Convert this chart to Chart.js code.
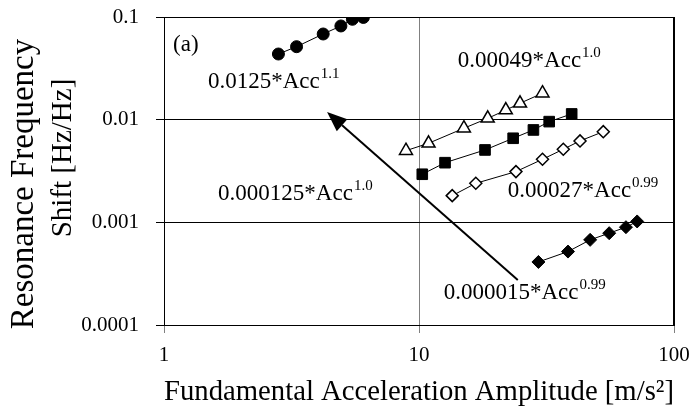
<!DOCTYPE html>
<html>
<head>
<meta charset="utf-8">
<script src="https://cdn.jsdelivr.net/npm/chart.js@4.4.1/dist/chart.umd.min.js"></script>
<style>
  html, body { margin: 0; padding: 0; background: #ffffff; }
  #wrap { width: 699px; height: 418px; }
</style>
</head>
<body>
<div id="wrap"><canvas id="resonanceChart" width="699" height="418"></canvas></div>
<script>
// Series data (x: acceleration m/s^2, y: shift Hz/Hz)
const circleX = [2.81, 3.31, 4.21, 4.94, 5.48, 6.05];
const circleY = [0.0436, 0.0514, 0.0683, 0.0818, 0.095, 0.099];

const triangleX = [8.89, 10.9, 15.0, 18.6, 21.9, 24.9, 30.5];
const triangleY = [0.00499, 0.00589, 0.00825, 0.0103, 0.0124, 0.01445, 0.0181];

const squareX = [10.3, 12.65, 18.15, 23.4, 28.1, 32.4, 39.7];
const squareY = [0.00294, 0.00381, 0.00507, 0.00659, 0.00794, 0.00957, 0.01137];

const openDiamondX = [13.5, 16.7, 24.0, 30.5, 36.8, 42.8, 52.8];
const openDiamondY = [0.00182, 0.0024, 0.00312, 0.00411, 0.00515, 0.00621, 0.00764];

const diamondX = [29.4, 38.4, 46.9, 55.7, 64.8, 71.7];
const diamondY = [0.000411, 0.000519, 0.000675, 0.000784, 0.000897, 0.00102];

// Axis ticks
const xTicks = [1, 10, 100];
const xTickLabels = ['1', '10', '100'];
const yTicks = [0.0001, 0.001, 0.01, 0.1];
const yTickLabels = ['0.0001', '0.001', '0.01', '0.1'];

// Axis titles
const xTitle = 'Fundamental Acceleration Amplitude [m/s\u00b2]';
const yTitleLines = ['Resonance Frequency', 'Shift [Hz/Hz]'];

// Fit labels: [text, exponent, anchor x, anchor y] (anchor = left baseline, in data units)
const fitLabels = [
    ['(a)', '', 1.085, 0.0467],
    ['0.0125*Acc', '1.1', 1.488, 0.0204],
    ['0.00049*Acc', '1.0', 14.2, 0.0326],
    ['0.000125*Acc', '1.0', 1.63, 0.00165],
    ['0.00027*Acc', '0.99', 22.3, 0.00177],
    ['0.000015*Acc', '0.99', 12.5, 0.00018]
];

// Arrow from label to curve: tail and head, data units
const arrowFrom = [24.4, 0.000275];
const arrowTo = [4.36, 0.0119];

const FONT = '"Liberation Serif", "Times New Roman", serif';

function toPoints(xs, ys) {
    return xs.map((x, i) => ({ x: x, y: ys[i] }));
}

function series(xs, ys, style, radius, filled) {
    return {
        data: toPoints(xs, ys),
        showLine: true,
        borderColor: '#000000',
        borderWidth: 1,
        pointStyle: style,
        pointRadius: radius,
        pointHoverRadius: radius,
        pointBackgroundColor: filled ? '#000000' : '#ffffff',
        pointBorderColor: '#000000',
        pointBorderWidth: filled ? 1 : 1.5,
        tension: 0
    };
}

// Draws frame, y title, fit equations and the arrow
const annotationPlugin = {
    id: 'annotations',
    afterDatasetsDraw(chart) {
        const ctx = chart.ctx;
        const xs = chart.scales.x;
        const ys = chart.scales.y;
        const area = chart.chartArea;

        ctx.save();
        ctx.strokeStyle = '#000000';
        ctx.lineWidth = 1;
        ctx.beginPath();
        ctx.moveTo(area.left, area.top + 0.5);
        ctx.lineTo(area.right, area.top + 0.5);
        ctx.stroke();
        ctx.lineWidth = 2;
        ctx.beginPath();
        ctx.moveTo(area.right, area.top);
        ctx.lineTo(area.right, area.bottom);
        ctx.stroke();

        ctx.fillStyle = '#000000';

        // y axis title, two lines rotated
        ctx.save();
        ctx.rotate(-Math.PI / 2);
        ctx.textAlign = 'center';
        ctx.textBaseline = 'middle';
        ctx.font = '33px ' + FONT;
        ctx.fillText(yTitleLines[0], -184, 24);
        ctx.font = '29px ' + FONT;
        ctx.fillText(yTitleLines[1], -158, 63);
        ctx.restore();

        ctx.textBaseline = 'alphabetic';
        ctx.textAlign = 'left';
        fitLabels.forEach(([text, exp, ax, ay]) => {
            const px = xs.getPixelForValue(ax);
            const py = ys.getPixelForValue(ay);
            ctx.font = '23px ' + FONT;
            ctx.fillText(text, px, py);
            if (exp) {
                const w = ctx.measureText(text).width;
                ctx.font = '15px ' + FONT;
                ctx.fillText(exp, px + w + 1, py - 10);
            }
        });

        // Arrow
        const x1 = xs.getPixelForValue(arrowFrom[0]);
        const y1 = ys.getPixelForValue(arrowFrom[1]);
        const x2 = xs.getPixelForValue(arrowTo[0]);
        const y2 = ys.getPixelForValue(arrowTo[1]);
        const ang = Math.atan2(y2 - y1, x2 - x1);
        const headLen = 20, headHalf = 8;
        const bx = x2 - headLen * Math.cos(ang);
        const by = y2 - headLen * Math.sin(ang);
        ctx.lineWidth = 2;
        ctx.beginPath();
        ctx.moveTo(x1, y1);
        ctx.lineTo(bx, by);
        ctx.stroke();
        ctx.beginPath();
        ctx.moveTo(x2, y2);
        ctx.lineTo(bx + headHalf * Math.sin(ang), by - headHalf * Math.cos(ang));
        ctx.lineTo(bx - headHalf * Math.sin(ang), by + headHalf * Math.cos(ang));
        ctx.closePath();
        ctx.fill();
        ctx.restore();
    }
};

const ctx = document.getElementById('resonanceChart').getContext('2d');
const resonanceChart = new Chart(ctx, {
    type: 'scatter',
    data: {
        datasets: [
            series(circleX, circleY, 'circle', 6, true),
            series(triangleX, triangleY, 'triangle', 7.5, false),
            series(squareX, squareY, 'rect', 7.5, true),
            series(openDiamondX, openDiamondY, 'rectRot', 6, false),
            series(diamondX, diamondY, 'rectRot', 6.5, true)
        ]
    },
    options: {
        responsive: false,
        animation: false,
        events: [],
        layout: { padding: { top: 17, right: 25, left: 0, bottom: 0 } },
        plugins: {
            legend: { display: false },
            tooltip: { enabled: false }
        },
        scales: {
            x: {
                type: 'logarithmic',
                min: 1,
                max: 100,
                afterBuildTicks: (scale) => {
                    scale.ticks = xTicks.map(v => ({ value: v }));
                },
                afterFit: (scale) => {
                    scale.height = 93;
                    scale.paddingLeft = 0;
                    scale.paddingRight = 0;
                },
                ticks: {
                    color: '#000000',
                    font: { family: FONT, size: 21 },
                    padding: 10,
                    maxRotation: 0,
                    callback: (value) => xTickLabels[xTicks.indexOf(value)]
                },
                grid: {
                    color: (c) => c.tick && c.tick.value === 10 ? '#808080' : '#000000',
                    tickColor: '#808080',
                    tickLength: 8,
                    lineWidth: 1
                },
                border: { color: '#000000', width: 1 },
                title: {
                    display: true,
                    text: xTitle,
                    color: '#000000',
                    font: { family: FONT, size: 30, lineHeight: 1.2 },
                    padding: { top: 0, bottom: 8 }
                }
            },
            y: {
                type: 'logarithmic',
                min: 0.0001,
                max: 0.1,
                afterBuildTicks: (scale) => {
                    scale.ticks = yTicks.map(v => ({ value: v }));
                },
                afterFit: (scale) => {
                    scale.width = 164;
                    scale.paddingTop = 0;
                    scale.paddingBottom = 0;
                },
                ticks: {
                    color: '#000000',
                    font: { family: FONT, size: 21 },
                    padding: 17,
                    callback: (value) => yTickLabels[yTicks.indexOf(value)]
                },
                grid: {
                    color: '#000000',
                    tickColor: '#000000',
                    tickLength: 8,
                    lineWidth: 1
                },
                border: { color: '#000000', width: 1 }
            }
        }
    },
    plugins: [annotationPlugin]
});
</script>
</body>
</html>
